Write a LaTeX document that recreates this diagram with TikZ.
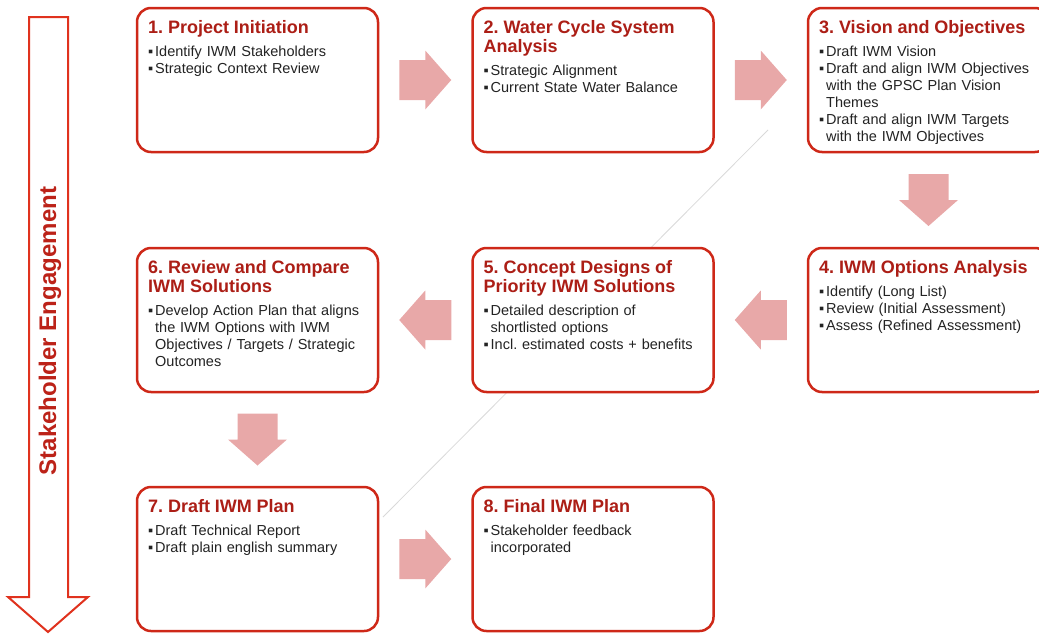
\documentclass[tikz,border=0pt]{standalone}
\usepackage{fontspec}
\setmainfont{Liberation Sans}
\usetikzlibrary{calc}
\definecolor{boxred}{RGB}{206,40,24}
\definecolor{titlered}{RGB}{172,30,22}
\definecolor{arrowpink}{RGB}{232,168,168}
\definecolor{bodygray}{RGB}{35,35,35}
\definecolor{engagered}{RGB}{224,50,30}
\definecolor{engagetext}{RGB}{188,34,24}
\frenchspacing
\newcommand{\stagetitle}[1]{{\fontsize{18}{19}\selectfont\bfseries\color{titlered}#1\par}\vspace{6.5pt}}
\newcommand{\stageitem}[1]{\hangindent=7pt\hangafter=1\noindent\makebox[7pt][l]{▪}#1\par}
\begin{document}
\begin{tikzpicture}[x=1pt,y=-1pt,
  stage/.style={draw=boxred,line width=2.5pt,rounded corners=14pt,fill=white,
    minimum width=241pt,minimum height=144pt,anchor=north west,inner sep=0pt,outer sep=0pt},
  stagetext/.style={anchor=base west,text width=226pt,align=left,inner sep=0pt,
    text=bodygray,font=\fontsize{14.5}{17}\selectfont},
  blockarrow/.pic={\fill[arrowpink] (-26,-20) -- (0,-20) -- (0,-29.5) -- (26,0)
    -- (0,29.5) -- (0,20) -- (-26,20) -- cycle;}]
\useasboundingbox (0,0) rectangle (1039,635);
% faint line behind the stages
\coordinate (fadetop) at (768,130);
\coordinate (fadebot) at (383,517);
\draw[black!15,line width=0.8pt] (fadetop) -- (fadebot);
% stakeholder engagement arrow
\draw[engagered,line width=2pt,fill=white] (29,17) -- (68,17) -- (68,597) -- (88,597)
  -- (48,632) -- (8,597) -- (29,597) -- cycle;
\node[rotate=90,anchor=base,text=engagetext,font=\fontsize{24}{26}\selectfont\bfseries]
  (engage) at (56,331) {Stakeholder Engagement};
% stages
\node[stage] (s1) at (137,8) {};
\node[stage] (s2) at (472.5,8) {};
\node[stage] (s3) at (808,8) {};
\node[stage] (s4) at (808,248) {};
\node[stage] (s5) at (472.5,248) {};
\node[stage] (s6) at (137,248) {};
\node[stage] (s7) at (137,487) {};
\node[stage] (s8) at (472.5,487) {};
\node[stagetext] (t1) at ([shift={(11,25)}]s1.north west) {\stagetitle{1. Project Initiation}%
  \stageitem{Identify IWM Stakeholders}\stageitem{Strategic Context Review}};
\node[stagetext] (t2) at ([shift={(11,25)}]s2.north west) {\stagetitle{2. Water Cycle System\\Analysis}%
  \stageitem{Strategic Alignment}\stageitem{Current State Water Balance}};
\node[stagetext] (t3) at ([shift={(11,25)}]s3.north west) {\stagetitle{3. Vision and Objectives}%
  \stageitem{Draft IWM Vision}%
  \stageitem{Draft and align IWM Objectives\newline with the GPSC Plan Vision\newline Themes}%
  \stageitem{Draft and align IWM Targets\newline with the IWM Objectives}};
\node[stagetext] (t4) at ([shift={(11,25)}]s4.north west) {\stagetitle{4. IWM Options Analysis}%
  \stageitem{Identify (Long List)}\stageitem{Review (Initial Assessment)}%
  \stageitem{Assess (Refined Assessment)}};
\node[stagetext] (t5) at ([shift={(11,25)}]s5.north west) {\stagetitle{5. Concept Designs of\\Priority IWM Solutions}%
  \stageitem{Detailed description of\newline shortlisted options}\stageitem{Incl. estimated costs + benefits}};
\node[stagetext] (t6) at ([shift={(11,25)}]s6.north west) {\stagetitle{6. Review and Compare\\IWM Solutions}%
  \stageitem{Develop Action Plan that aligns\newline the IWM Options with IWM\newline Objectives / Targets / Strategic\newline Outcomes}};
\node[stagetext] (t7) at ([shift={(11,25)}]s7.north west) {\stagetitle{7. Draft IWM Plan}%
  \stageitem{Draft Technical Report}\stageitem{Draft plain english summary}};
\node[stagetext] (t8) at ([shift={(11,25)}]s8.north west) {\stagetitle{8. Final IWM Plan}%
  \stageitem{Stakeholder feedback\newline incorporated}};
% flow arrows
\pic at ($(s1.east)!0.5!(s2.west)$) {blockarrow};
\pic at ($(s2.east)!0.5!(s3.west)$) {blockarrow};
\pic[rotate=-90] at ($(s3.south)!0.5!(s4.north)$) {blockarrow};
\pic[rotate=180] at ($(s4.west)!0.5!(s5.east)$) {blockarrow};
\pic[rotate=180] at ($(s5.west)!0.5!(s6.east)$) {blockarrow};
\pic[rotate=-90] at ($(s6.south)!0.5!(s7.north)$) {blockarrow};
\pic at ($(s7.east)!0.5!(s8.west)$) {blockarrow};
\end{tikzpicture}
\end{document}
